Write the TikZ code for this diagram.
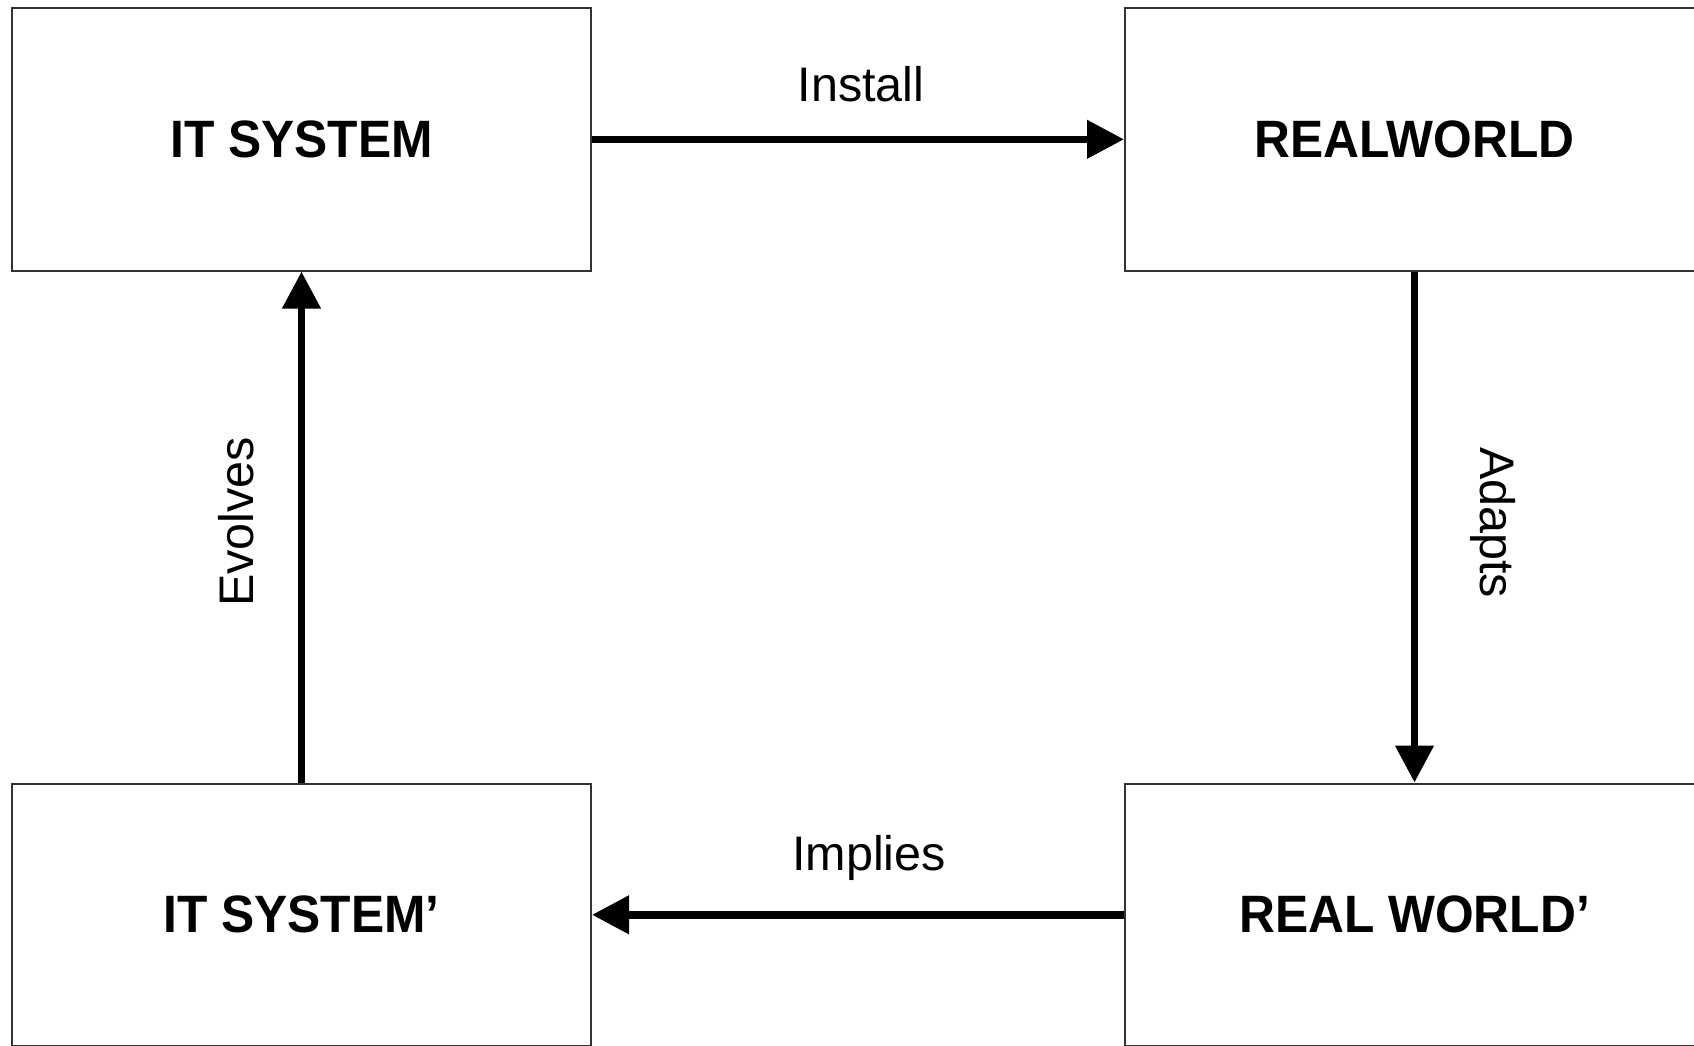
\documentclass[tikz,border=0pt]{standalone}
\usepackage{fontspec}
\setmainfont{Liberation Sans}
\newfontfamily\titlefont[FakeStretch=0.945]{Liberation Sans}
\usetikzlibrary{arrows.meta}
\begin{document}
\begin{tikzpicture}[x=1pt,y=-1pt,
  box/.style={draw=black!80, fill=white, line width=2pt, minimum width=579pt, minimum height=262.5pt, inner sep=0pt,
    font=\titlefont\bfseries\fontsize{52.6}{60}\selectfont},
  conn/.style={line width=7.5pt, -{Triangle[length=37pt,width=37pt]}},
  lbl/.style={font=\fontsize{48.5}{58}\selectfont, inner sep=0pt, anchor=base}]
\useasboundingbox (0,0) rectangle (1694,1045);
\clip (0,0) rectangle (1694,1045);
\fill[white] (0,0) rectangle (1694,1045);
\node[box] (its)  at (301.5,139.3) {IT SYSTEM};
\node[box] (rw)   at (1414.5,139.3) {REALWORLD};
\node[box] (itsp) at (301.5,914.8) {IT SYSTEM’};
\node[box] (rwp)  at (1414.5,914.8) {REAL WORLD’};
\draw[conn] (its.east) -- (rw.west)
  node[lbl, midway, xshift=3pt, yshift=38.3pt] {Install};
\draw[conn] (rw.south) -- (rwp.north)
  node[lbl, midway, xshift=65.5pt, yshift=4.5pt, rotate=-90] {Adapts};
\draw[conn] (rwp.west) -- (itsp.east)
  node[lbl, midway, xshift=11pt, yshift=44pt] {Implies};
\draw[conn] (itsp.north) -- (its.south)
  node[lbl, midway, xshift=-48.3pt, yshift=5pt, rotate=90] {Evolves};
\end{tikzpicture}
\end{document}
